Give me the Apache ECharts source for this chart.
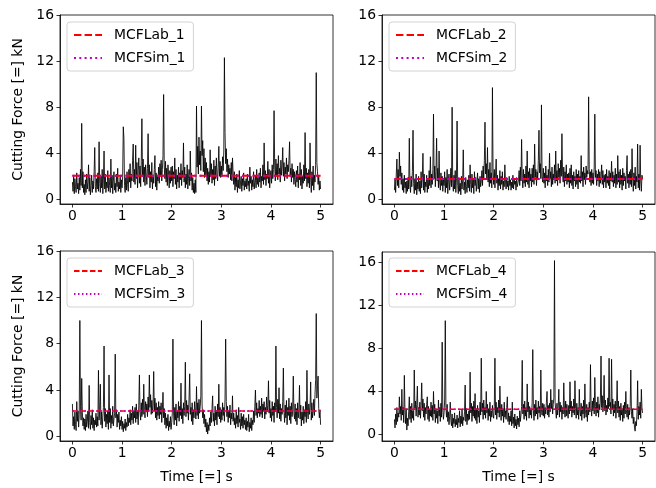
<!DOCTYPE html>
<html>
<head>
<meta charset="utf-8">
<script src="https://cdn.jsdelivr.net/npm/echarts@6/dist/echarts.min.js"></script>
<style>
  html, body { margin: 0; padding: 0; background: #fff; }
  #chart { width: 656px; height: 488px; }
</style>
</head>
<body>
<div id="chart"></div>
<script>
// ---- data ----
const timeStep = 0.0125; // s between samples (401 samples over 0..5 s)
const force1 = [
  1.5, 0.7, 2.0, 0.5, 1.8, 1.1, 0.6, 2.3, 0.9, 1.4, 0.5, 1.9, 0.8, 2.6, 1.2, 6.6, 1.0, 2.4, 0.6, 1.3,
  0.4, 1.7, 0.6, 2.2, 0.9, 1.5, 3.0, 0.7, 1.9, 0.4, 1.2, 2.1, 0.6, 1.6, 0.9, 2.4, 4.5, 1.1, 0.6, 1.8,
  0.9, 2.3, 0.7, 5.0, 1.4, 0.6, 2.0, 1.0, 2.6, 0.5, 1.7, 4.2, 0.9, 2.2, 0.6, 1.5, 1.0, 2.5, 0.7, 1.9,
  1.2, 0.6, 3.5, 1.0, 2.1, 0.5, 1.6, 2.4, 0.8, 1.4, 0.6, 2.2, 1.1, 2.7, 0.7, 1.5, 0.9, 2.0, 0.6, 1.7,
  1.0, 2.0, 6.3, 5.3, 1.2, 0.6, 1.9, 0.8, 2.4, 1.3, 0.7, 2.6, 1.5, 3.1, 1.0, 2.2, 1.6, 3.4, 4.8, 1.5,
  2.6, 1.3, 4.7, 1.8, 3.2, 1.0, 2.5, 3.6, 1.4, 2.9, 1.1, 3.3, 7.0, 2.0, 3.5, 1.5, 2.8, 1.2, 3.0, 2.1,
  1.3, 2.7, 5.7, 1.9, 3.0, 1.0, 2.4, 1.5, 3.2, 0.9, 2.1, 1.4, 2.6, 3.8, 1.1, 2.3, 0.8, 2.0, 1.6, 2.8,
  1.4, 3.1, 2.0, 3.4, 1.6, 2.6, 3.8, 9.1, 2.9, 1.8, 3.3, 1.5, 2.7, 1.2, 3.0, 2.2, 1.0, 2.5, 1.4, 2.8,
  1.6, 2.9, 1.1, 2.4, 1.8, 3.6, 1.3, 2.6, 0.9, 2.1, 1.5, 2.8, 1.0, 2.3, 1.7, 3.1, 1.2, 2.5, 1.9, 4.9,
  1.5, 2.8, 1.0, 2.2, 1.3, 3.0, 0.9, 1.8, 2.6, 1.2, 4.2, 1.6, 2.3, 0.8, 1.9, 0.6, 1.4, 0.5, 1.7, 0.6,
  8.1, 2.8, 4.6, 2.2, 5.4, 3.0, 4.2, 2.5, 8.1, 3.8, 5.1, 2.4, 4.4, 1.9, 3.6, 2.1, 3.2, 1.6, 2.7, 1.3,
  2.4, 1.5, 4.3, 2.0, 3.1, 1.4, 2.6, 1.7, 3.4, 1.2, 2.9, 1.8, 3.6, 2.2, 1.6, 2.8, 4.6, 2.0, 3.3, 1.9,
  2.9, 2.1, 3.7, 2.5, 4.2, 12.3, 5.8, 3.1, 4.4, 2.4, 3.5, 1.9, 3.0, 2.2, 2.7, 1.7, 3.2, 1.6, 3.6, 2.3,
  1.3, 2.4, 0.8, 1.9, 1.1, 2.2, 0.6, 1.7, 1.0, 2.5, 0.9, 1.5, 2.0, 0.7, 1.8, 1.2, 2.3, 0.8, 1.6, 1.1,
  1.8, 0.9, 2.2, 1.2, 1.6, 0.7, 2.8, 1.4, 2.0, 0.8, 1.7, 1.1, 2.4, 0.9, 1.5, 2.1, 1.0, 2.6, 1.3, 1.9,
  1.1, 2.3, 1.5, 2.7, 1.0, 2.0, 1.6, 3.0, 1.3, 4.9, 1.7, 2.5, 1.2, 2.2, 1.8, 3.3, 1.4, 2.6, 1.0, 2.1,
  2.5, 1.4, 3.0, 1.8, 2.6, 7.7, 2.9, 1.6, 3.5, 2.0, 3.1, 1.7, 3.8, 2.2, 2.7, 1.5, 3.4, 2.1, 2.9, 4.5,
  2.0, 3.2, 1.6, 2.8, 2.2, 3.6, 1.8, 3.0, 2.4, 3.4, 5.0, 2.1, 2.7, 1.5, 3.1, 1.9, 2.6, 1.3, 2.4, 1.7,
  1.1, 2.5, 1.5, 2.9, 1.0, 2.2, 1.7, 3.2, 1.2, 2.6, 0.9, 2.0, 1.4, 3.0, 1.6, 5.8, 1.8, 2.7, 1.1, 2.3,
  1.4, 2.6, 1.0, 4.9, 1.9, 0.6, 2.4, 1.2, 2.9, 0.8, 2.1, 1.5, 3.0, 11.0, 3.2, 2.4, 1.3, 2.0, 0.8, 1.6,
  0.9
];
const force2 = [
  0.8, 1.7, 0.6, 2.2, 3.5, 1.2, 2.6, 1.0, 4.1, 2.0, 2.9, 1.3, 2.3, 0.8, 1.8, 0.6, 2.1, 1.0, 1.5, 0.5,
  1.6, 0.7, 1.9, 0.9, 5.3, 1.3, 0.6, 2.0, 1.1, 2.4, 6.0, 1.4, 0.5, 1.8, 0.8, 2.2, 0.4, 1.5, 0.9, 2.0,
  0.7, 1.6, 0.5, 2.4, 1.0, 1.9, 4.0, 0.8, 2.2, 0.6, 1.5, 1.1, 2.1, 0.6, 1.7, 0.9, 2.5, 1.2, 3.7, 1.0,
  2.2, 1.3, 2.6, 7.4, 1.8, 2.9, 1.1, 2.4, 5.3, 1.6, 2.7, 1.0, 4.2, 1.5, 0.8, 2.3, 1.2, 2.0, 0.7, 1.8,
  1.2, 2.4, 0.6, 1.9, 1.0, 2.6, 0.5, 1.7, 2.2, 0.8, 1.5, 2.7, 1.1, 8.0, 1.4, 0.7, 2.1, 0.9, 2.5, 0.6,
  1.8, 6.8, 1.2, 0.5, 1.9, 0.7, 1.4, 0.4, 2.0, 0.9, 1.6, 4.3, 0.8, 1.5, 0.5, 1.9, 1.1, 0.6, 1.7, 1.0,
  2.1, 0.7, 3.0, 1.3, 0.6, 2.2, 1.0, 1.7, 0.5, 2.4, 1.2, 1.9, 0.7, 1.5, 2.3, 0.9, 1.8, 0.6, 2.0, 1.1,
  1.6, 2.5, 1.2, 2.9, 1.8, 3.4, 6.7, 2.2, 3.1, 1.7, 4.5, 1.5, 2.6, 1.1, 3.2, 1.4, 2.3, 1.0, 9.7, 2.4,
  1.3, 2.6, 1.0, 2.2, 3.5, 1.4, 2.1, 0.8, 1.8, 1.2, 2.5, 0.9, 2.0, 1.3, 2.4, 0.8, 1.6, 1.1, 3.0, 1.5,
  0.9, 1.9, 1.1, 1.6, 0.8, 2.0, 1.2, 1.7, 0.8, 1.5, 1.0, 2.1, 0.9, 1.8, 1.3, 1.6, 0.8, 1.9, 1.1, 1.4,
  1.7, 2.5, 1.2, 2.8, 1.6, 5.2, 1.9, 1.0, 2.6, 1.4, 2.2, 1.1, 2.9, 1.5, 4.2, 1.3, 2.4, 1.0, 2.7, 1.6,
  2.2, 1.1, 2.7, 1.5, 3.0, 1.3, 4.8, 1.9, 2.6, 1.2, 2.4, 1.7, 3.4, 6.0, 2.3, 3.1, 1.8, 8.2, 2.0, 1.5,
  2.7, 1.4, 2.3, 1.0, 2.9, 1.6, 2.1, 1.2, 2.6, 1.5, 4.0, 1.8, 2.4, 1.1, 2.8, 1.3, 2.2, 1.7, 3.0, 1.4,
  4.2, 1.6, 2.5, 1.2, 3.1, 1.9, 2.7, 1.4, 3.4, 2.0, 5.7, 2.3, 1.5, 2.8, 1.1, 2.4, 1.6, 3.0, 1.3, 2.2,
  1.5, 2.3, 1.0, 2.7, 1.4, 3.0, 1.2, 2.1, 0.9, 2.4, 1.6, 2.0, 1.1, 2.6, 1.3, 2.2, 0.9, 2.5, 1.5, 2.0,
  1.4, 3.8, 1.6, 2.4, 1.1, 2.8, 1.7, 2.3, 1.3, 2.9, 1.9, 2.5, 2.2, 8.9, 2.7, 1.5, 2.4, 1.2, 2.6, 1.4,
  2.3, 1.3, 2.8, 7.4, 1.9, 2.5, 1.2, 2.2, 1.6, 2.6, 1.1, 2.4, 1.4, 2.0, 3.0, 1.3, 2.5, 1.0, 2.1, 1.5,
  2.2, 1.0, 2.6, 1.4, 2.0, 1.2, 2.5, 0.9, 2.3, 1.6, 3.3, 1.5, 2.4, 1.1, 2.1, 1.4, 2.7, 1.0, 2.2, 1.3,
  3.8, 1.5, 2.4, 1.0, 2.6, 1.3, 2.1, 0.8, 2.7, 1.2, 2.3, 1.6, 2.0, 0.9, 2.5, 3.8, 1.4, 2.2, 1.0, 2.4,
  1.3, 2.6, 1.1, 4.4, 1.9, 0.7, 2.3, 1.2, 2.8, 0.9, 2.0, 1.5, 4.8, 1.0, 2.2, 0.8, 4.7, 1.6, 0.7, 2.1,
  1.8
];
const force3 = [
  2.8, 0.9, 1.7, 0.6, 2.1, 1.0, 0.5, 3.0, 1.3, 2.2, 0.8, 1.9, 10.0, 2.6, 1.4, 5.0, 2.1, 0.9, 1.6, 0.6,
  1.5, 0.5, 1.9, 0.8, 1.3, 2.2, 0.7, 4.4, 1.2, 0.6, 1.8, 1.0, 2.3, 0.7, 1.6, 0.5, 1.4, 1.0, 2.0, 0.8,
  1.7, 0.9, 5.7, 1.4, 2.3, 4.5, 1.0, 2.1, 0.7, 1.6, 2.5, 7.8, 1.3, 2.4, 0.8, 1.9, 1.1, 2.2, 0.6, 5.3,
  1.2, 2.4, 0.7, 1.8, 1.1, 2.6, 0.9, 1.5, 2.0, 7.1, 1.6, 2.3, 0.8, 1.9, 1.2, 2.1, 0.6, 1.4, 0.9, 1.7,
  0.6, 1.3, 0.4, 1.1, 0.7, 1.5, 0.5, 1.2, 0.8, 1.9, 0.9, 1.6, 1.2, 2.3, 1.0, 2.0, 1.4, 2.6, 1.1, 2.2,
  1.6, 2.5, 1.2, 2.8, 1.5, 2.2, 1.0, 2.7, 5.3, 2.0, 1.4, 2.9, 1.7, 3.2, 1.9, 4.5, 2.3, 1.6, 3.0, 2.1,
  2.8, 1.7, 3.4, 2.2, 5.3, 2.5, 3.6, 1.9, 3.1, 2.0, 2.7, 5.6, 2.2, 3.3, 1.6, 2.9, 1.4, 2.5, 1.8, 3.0,
  1.5, 2.6, 1.9, 2.9, 1.2, 2.3, 3.8, 1.6, 2.4, 1.0, 2.0, 0.7, 1.6, 0.9, 1.9, 0.5, 1.3, 0.8, 1.7, 0.6,
  1.2, 2.0, 8.4, 2.1, 1.0, 2.5, 1.4, 2.8, 0.9, 2.2, 1.6, 3.0, 1.3, 2.6, 1.8, 4.6, 1.5, 2.4, 1.1, 2.9,
  1.8, 2.6, 6.4, 1.7, 3.1, 2.0, 2.7, 1.4, 3.3, 5.4, 1.9, 2.5, 1.3, 2.9, 1.0, 2.3, 1.6, 3.0, 2.2, 1.5,
  4.3, 1.8, 2.9, 1.5, 3.2, 2.0, 2.6, 3.5, 10.0, 2.7, 1.6, 2.3, 1.1, 1.9, 0.8, 1.5, 0.4, 1.2, 0.2, 1.0,
  0.5, 1.6, 0.9, 2.1, 1.2, 2.4, 3.5, 1.3, 2.0, 0.9, 2.6, 1.4, 2.2, 1.0, 2.8, 1.7, 4.5, 1.5, 2.5, 1.2,
  2.3, 1.4, 2.9, 1.8, 2.5, 1.3, 3.3, 8.4, 3.0, 1.7, 2.6, 1.2, 2.2, 1.6, 2.7, 1.0, 2.0, 1.5, 3.5, 1.3,
  2.0, 1.0, 1.6, 0.7, 2.3, 1.1, 1.8, 0.8, 2.5, 1.2, 1.5, 0.6, 2.0, 0.9, 1.7, 0.7, 1.9, 1.0, 1.4, 0.6,
  1.6, 0.5, 1.3, 0.8, 1.9, 0.4, 1.2, 0.7, 1.6, 0.5, 1.4, 1.0, 2.2, 1.2, 2.6, 4.0, 1.8, 2.9, 1.6, 2.4,
  2.0, 3.1, 1.7, 2.6, 1.9, 3.3, 1.6, 2.8, 2.2, 3.0, 1.5, 2.5, 1.9, 3.4, 2.1, 2.7, 4.8, 2.0, 3.1, 1.6,
  2.4, 1.3, 3.0, 1.8, 2.6, 1.2, 2.9, 2.1, 7.8, 2.5, 1.6, 3.2, 2.0, 4.2, 1.5, 2.8, 1.3, 2.4, 1.9, 3.0,
  5.9, 2.2, 1.2, 2.7, 1.6, 3.1, 1.0, 2.5, 1.8, 3.3, 1.4, 2.6, 1.1, 2.9, 1.7, 2.3, 5.2, 2.0, 1.5, 2.8,
  1.3, 2.4, 1.0, 2.9, 1.6, 2.2, 4.4, 1.5, 2.7, 0.9, 2.1, 1.4, 2.6, 1.1, 2.3, 1.7, 3.0, 1.2, 5.7, 2.0,
  1.5, 2.8, 1.9, 2.5, 4.7, 1.4, 2.9, 1.6, 2.2, 3.2, 1.8, 3.6, 4.9, 10.6, 3.3, 4.4, 5.2, 2.4, 1.6, 2.3,
  1.0
];
const force4 = [
  1.4, 0.6, 1.9, 0.9, 2.5, 1.2, 2.0, 1.6, 3.5, 1.9, 2.6, 1.3, 4.2, 1.8, 2.5, 1.1, 5.5, 2.2, 1.0, 2.4,
  0.4, 1.5, 0.8, 2.1, 3.5, 1.4, 2.6, 1.1, 2.9, 1.5, 2.2, 1.3, 6.0, 2.4, 3.1, 1.7, 2.8, 4.5, 1.6, 2.5,
  1.8, 3.0, 1.5, 2.7, 4.8, 2.2, 3.3, 1.6, 2.9, 1.3, 2.5, 1.9, 2.8, 3.5, 1.4, 2.6, 1.2, 2.3, 1.7, 3.0,
  1.6, 2.7, 1.3, 4.0, 1.9, 2.8, 1.1, 2.4, 1.5, 2.2, 1.0, 3.2, 1.7, 2.5, 1.2, 2.9, 1.6, 8.6, 2.3, 1.4,
  2.0, 3.2, 10.6, 2.5, 1.6, 2.8, 1.2, 2.1, 0.9, 1.7, 3.0, 1.3, 0.8, 1.9, 0.6, 1.5, 1.0, 2.0, 0.7, 1.4,
  0.9, 1.8, 0.6, 1.5, 1.1, 2.2, 0.7, 1.7, 1.0, 2.3, 0.8, 1.6, 1.3, 2.1, 4.6, 1.2, 2.4, 0.9, 1.9, 1.3,
  2.2, 1.4, 5.8, 2.0, 2.9, 1.2, 2.6, 1.7, 3.1, 1.5, 3.8, 1.3, 2.4, 1.0, 2.7, 1.6, 2.2, 1.1, 3.0, 1.8,
  7.1, 2.1, 2.9, 1.4, 3.2, 1.8, 2.5, 1.5, 4.0, 2.0, 2.8, 1.3, 2.4, 1.7, 3.0, 1.2, 2.2, 1.6, 2.7, 1.9,
  1.5, 2.6, 7.1, 1.8, 3.0, 1.4, 2.5, 2.0, 3.2, 1.6, 4.5, 2.3, 1.3, 2.8, 1.7, 2.4, 1.1, 3.0, 1.6, 2.2,
  1.4, 2.5, 3.5, 1.2, 2.0, 0.9, 1.7, 1.2, 2.2, 0.8, 3.0, 1.0, 1.6, 0.6, 1.9, 0.8, 1.4, 0.5, 1.7, 0.9,
  1.5, 0.7, 2.2, 1.2, 1.8, 2.6, 6.9, 1.9, 2.8, 1.4, 3.1, 1.7, 2.5, 1.3, 4.7, 2.1, 3.0, 1.5, 2.6, 1.8,
  2.4, 1.5, 3.0, 7.9, 2.2, 1.3, 2.8, 1.7, 3.2, 1.9, 2.5, 1.4, 3.1, 2.0, 2.6, 1.6, 6.0, 2.3, 1.8, 2.9,
  1.7, 2.8, 1.5, 2.5, 1.9, 3.0, 4.0, 1.8, 2.7, 1.6, 2.9, 2.1, 4.2, 2.4, 3.2, 1.9, 2.8, 3.4, 16.2, 3.0,
  2.2, 1.5, 2.9, 1.8, 2.6, 4.2, 1.6, 3.0, 2.1, 2.7, 1.4, 2.5, 1.9, 4.8, 2.3, 1.6, 3.1, 1.7, 2.8, 2.0,
  1.5, 2.7, 1.9, 4.9, 2.2, 3.1, 1.6, 2.6, 2.0, 3.3, 1.8, 5.0, 2.4, 1.5, 2.9, 1.8, 2.5, 1.4, 4.2, 2.1,
  1.7, 2.9, 1.3, 2.6, 1.9, 3.2, 1.5, 4.7, 2.2, 1.6, 2.8, 1.2, 2.5, 1.8, 3.0, 2.1, 6.5, 2.4, 1.7, 3.1,
  2.2, 3.4, 1.9, 5.3, 2.6, 1.7, 3.0, 2.0, 3.5, 1.6, 2.8, 2.3, 3.3, 7.3, 2.5, 3.6, 2.1, 2.9, 5.5, 2.2,
  3.2, 1.8, 2.7, 2.1, 3.4, 2.4, 7.1, 2.6, 3.0, 1.9, 7.0, 2.3, 3.3, 1.7, 2.8, 2.0, 3.1, 1.5, 2.6, 5.0,
  2.0, 3.1, 1.6, 2.6, 1.3, 2.9, 1.8, 2.4, 1.2, 2.7, 1.5, 3.0, 1.9, 4.0, 2.2, 1.6, 2.8, 1.4, 2.5, 1.8,
  2.6, 6.0, 2.1, 1.5, 2.4, 1.0, 1.6, 0.6, 0.3, 1.2, 0.8, 2.0, 5.0, 1.4, 2.6, 1.8, 3.0, 1.5, 4.2, 2.4,
  2.0
];
const labMean = [2.05, 1.76, 2.18, 2.33];
const simMean = [2.05, 1.76, 2.18, 2.33];
const labNames = ['MCFLab_1', 'MCFLab_2', 'MCFLab_3', 'MCFLab_4'];
const simNames = ['MCFSim_1', 'MCFSim_2', 'MCFSim_3', 'MCFSim_4'];
const xTicks = [0, 1, 2, 3, 4, 5];
const yTicks = [0, 4, 8, 12, 16];
const timeSpan = [0, 5];
const yLabel = 'Cutting Force [=] kN';
const xLabel = 'Time [=] s';

// ---- layout / style ----
const forces = [force1, force2, force3, force4];
const grids = [
  { left: 60, top: 15, width: 273, height: 189 },
  { left: 382, top: 15, width: 273, height: 189 },
  { left: 60, top: 251, width: 273, height: 190 },
  { left: 382, top: 252, width: 273, height: 189 }
];
const yRanges = [[-0.4, 16], [-0.4, 16], [-0.4, 16], [-0.62, 17]];
const legendPos = [
  { left: 67, top: 22 }, { left: 389, top: 22 },
  { left: 67, top: 258 }, { left: 389, top: 258 }
];
const refWidth = [2, 2, 1.5, 1.5];
const FONT = 'DejaVu Sans';
const FS = 13.9;

const chart = echarts.init(document.getElementById('chart'), null, { renderer: 'canvas' });

const option = {
  animation: false,
  backgroundColor: '#fff',
  grid: grids.map(g => Object.assign({
    show: true, borderColor: '#000', borderWidth: 0.8, backgroundColor: 'transparent', containLabel: false
  }, g)),
  xAxis: grids.map((g, k) => ({
    type: 'value', gridIndex: k, min: -0.25, max: 5.25,
    axisLine: { show: true, onZero: false, lineStyle: { color: '#000', width: 0.8 } },
    splitLine: { show: false },
    axisTick: { show: true, inside: false, length: 3.5, lineStyle: { color: '#000', width: 0.8 }, customValues: xTicks },
    axisLabel: { customValues: xTicks, margin: 5, fontSize: FS, color: '#000', fontFamily: FONT },
    name: k >= 2 ? xLabel : '',
    nameLocation: 'middle', nameGap: 29,
    nameTextStyle: { fontSize: FS, color: '#000', fontFamily: FONT }
  })),
  yAxis: grids.map((g, k) => ({
    type: 'value', gridIndex: k, min: yRanges[k][0], max: yRanges[k][1],
    axisLine: { show: true, onZero: false, lineStyle: { color: '#000', width: 0.8 } },
    splitLine: { show: false },
    axisTick: { show: true, inside: false, length: 3.5, lineStyle: { color: '#000', width: 0.8 }, customValues: yTicks },
    axisLabel: { customValues: yTicks, margin: 6, fontSize: FS, color: '#000', fontFamily: FONT },
    name: (k % 2 === 0) ? yLabel : '',
    nameLocation: 'middle', nameGap: 35,
    nameTextStyle: { fontSize: FS, color: '#000', fontFamily: FONT }
  })),
  legend: grids.map((g, k) => ({
    orient: 'vertical',
    left: legendPos[k].left, top: legendPos[k].top,
    itemWidth: 28, itemHeight: 14, itemGap: 9,
    padding: [6, 8, 6, 6],
    borderColor: '#d3d3d3', borderWidth: 1, borderRadius: 3,
    backgroundColor: 'rgba(255,255,255,0.8)',
    selectedMode: false,
    itemStyle: { opacity: 0, borderWidth: 0 },
    textStyle: { fontSize: FS, color: '#000', fontFamily: FONT, padding: [0, 0, 0, 7] },
    data: [labNames[k], simNames[k]]
  })),
  series: []
};

forces.forEach((f, k) => {
  option.series.push({
    name: 'signal_' + (k + 1), type: 'line', xAxisIndex: k, yAxisIndex: k,
    data: f.map((v, i) => [i * timeStep, v]),
    showSymbol: false, symbol: 'none', silent: true,
    lineStyle: { color: '#000', width: 0.85 }, z: 2
  });
  option.series.push({
    name: labNames[k], type: 'line', xAxisIndex: k, yAxisIndex: k,
    data: timeSpan.map(t => [t, labMean[k]]),
    showSymbol: false, symbol: 'none', silent: true,
    itemStyle: { color: '#ff0000' },
    lineStyle: { color: '#ff0000', width: refWidth[k], type: [3.7 * refWidth[k], 1.6 * refWidth[k]] }, z: 3
  });
  option.series.push({
    name: simNames[k], type: 'line', xAxisIndex: k, yAxisIndex: k,
    data: timeSpan.map(t => [t, simMean[k]]),
    showSymbol: false, symbol: 'none', silent: true,
    itemStyle: { color: '#bf00bf' },
    lineStyle: { color: '#bf00bf', width: refWidth[k], type: [1 * refWidth[k], 1.65 * refWidth[k]] }, z: 4
  });
});

chart.setOption(option);
</script>
</body>
</html>
